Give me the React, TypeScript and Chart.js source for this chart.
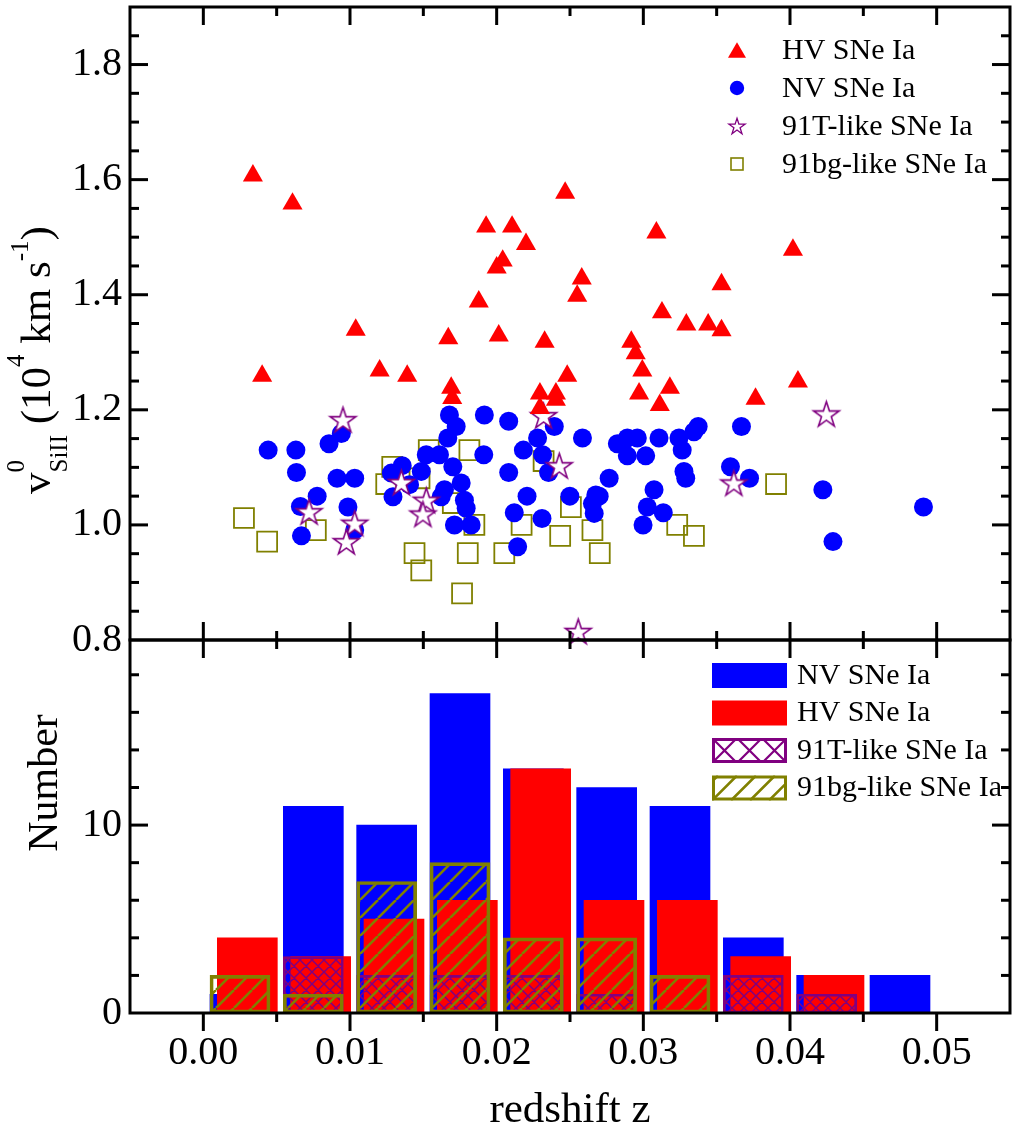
import React, { useEffect, useRef } from 'react';
import { Chart, registerables } from 'chart.js';

Chart.register(...registerables);

const FONT = "'Liberation Serif', 'Times New Roman', serif";
const RED = '#ff0000';
const BLUE = '#0000ff';
const PURPLE = '#800080';
const OLIVE = '#808000';

// ---------------- scatter panel: redshift z vs v0(SiII) [1e4 km/s] ----------------
const hvZ = [0.00338, 0.00608, 0.01928, 0.02105, 0.02041, 0.0200, 0.01878, 0.01039, 0.0167, 0.02014,
  0.00401, 0.01202, 0.0139, 0.0169, 0.01697, 0.02467, 0.0220, 0.03089, 0.0402, 0.0258,
  0.03533, 0.02549, 0.03127, 0.03293, 0.03442, 0.03533, 0.02327, 0.02918, 0.02948, 0.02993,
  0.02481, 0.04054, 0.03181, 0.02295, 0.02404, 0.02971, 0.02404, 0.02295, 0.03112, 0.03765];
const hvV = [1.607, 1.558, 1.518, 1.518, 1.459, 1.447, 1.388, 1.339, 1.324, 1.329,
  1.259, 1.268, 1.259, 1.238, 1.220, 1.577, 1.488, 1.508, 1.478, 1.428,
  1.418, 1.398, 1.369, 1.348, 1.348, 1.338, 1.318, 1.318, 1.298, 1.268,
  1.259, 1.249, 1.238, 1.228, 1.228, 1.228, 1.217, 1.203, 1.208, 1.219];

const nvZ = [0.00442, 0.00631, 0.00635, 0.00776, 0.00662, 0.00669, 0.00857, 0.00941, 0.00912, 0.01032,
  0.00986, 0.01032, 0.01282, 0.01356, 0.01293, 0.01406, 0.01486, 0.0152, 0.0161, 0.01678,
  0.01724, 0.01667, 0.01701, 0.01758, 0.01644, 0.01622, 0.0178, 0.01792, 0.01712, 0.01826,
  0.01916, 0.02082, 0.01912, 0.02082, 0.0212, 0.02143, 0.02393, 0.02279, 0.02182, 0.02313,
  0.02585, 0.02823, 0.02891, 0.02959, 0.02891, 0.03016, 0.03107, 0.03243, 0.03265, 0.03345,
  0.03374, 0.03669, 0.03594, 0.03724, 0.02354, 0.02767, 0.03277, 0.03289, 0.02207, 0.02499,
  0.02699, 0.02653, 0.02665, 0.02676, 0.03073, 0.03027, 0.03136, 0.02998, 0.02309, 0.04224,
  0.04293, 0.0491];
const nvV = [1.130, 1.130, 1.091, 1.050, 1.032, 0.981, 1.141, 1.159, 1.081, 1.081,
  1.031, 0.991, 1.090, 1.103, 1.049, 1.070, 1.093, 1.122, 1.122, 1.191,
  1.171, 1.151, 1.101, 1.073, 1.061, 1.049, 1.043, 1.029, 1.000, 1.000,
  1.191, 1.180, 1.122, 1.091, 1.021, 0.962, 1.171, 1.151, 1.130, 1.122,
  1.151, 1.141, 1.151, 1.151, 1.120, 1.120, 1.151, 1.151, 1.130, 1.162,
  1.171, 1.171, 1.101, 1.081, 1.091, 1.081, 1.093, 1.081, 1.050, 1.050,
  1.050, 1.037, 1.020, 1.052, 1.061, 1.031, 1.021, 1.000, 1.011, 1.061,
  0.971, 1.031];

const t91Z = [0.00952, 0.00721, 0.01032, 0.00975, 0.0135, 0.0152, 0.01497, 0.0232, 0.02427, 0.03617, 0.04248, 0.02556];
const t91V = [1.183, 1.023, 1.003, 0.971, 1.074, 1.043, 1.019, 1.190, 1.103, 1.073, 1.193, 0.815];

const bgZ = [0.00277, 0.00435, 0.00767, 0.01288, 0.01247, 0.01537, 0.01814, 0.01474, 0.01701, 0.01848,
  0.0144, 0.01486, 0.01764, 0.01803, 0.02052, 0.0217, 0.0232, 0.02506, 0.02433, 0.02653,
  0.02703, 0.03231, 0.03345, 0.03905];
const bgV = [1.012, 0.971, 0.991, 1.101, 1.071, 1.130, 1.130, 1.081, 1.038, 1.000,
  0.951, 0.921, 0.881, 0.951, 0.951, 1.000, 1.111, 1.031, 0.981, 0.991,
  0.951, 1.000, 0.981, 1.071];

// ---------------- histogram panel ----------------
const binCenters = [0.0025, 0.0075, 0.0125, 0.0175, 0.0225, 0.0275, 0.0325, 0.0375, 0.0425, 0.0475];
const hvBarX = [0.003, 0.008, 0.013, 0.018, 0.023, 0.028, 0.033, 0.038, 0.043, 0.048];
const nvCounts = [1, 11, 10, 17, 13, 12, 11, 4, 2, 2];
const hvCounts = [4, 3, 5, 6, 13, 6, 6, 3, 2, 0];
const t91Counts = [0, 3, 2, 2, 2, 1, 0, 2, 1, 0];
const bg91Counts = [2, 1, 7, 8, 4, 4, 2, 0, 0, 0];

// ---------------- axes / tick labels ----------------
const X_MIN = -0.005, X_MAX = 0.055, X_MAJOR = 0.01, X_MINOR = 0.005;
const V_MIN = 0.8, V_MAX = 1.9, V_MAJOR = 0.2, V_MINOR = 0.05;
const N_MIN = 0, N_MAX = 19.85, N_MAJOR = 10, N_MINOR = 2;
const xTickValues = [0, 0.01, 0.02, 0.03, 0.04, 0.05];
const vTickValues = [0.8, 1.0, 1.2, 1.4, 1.6, 1.8];
const nTickValues = [0, 10];

const topLegendLabels = ['HV SNe Ia', 'NV SNe Ia', '91T-like SNe Ia', '91bg-like SNe Ia'];
const bottomLegendLabels = ['NV SNe Ia', 'HV SNe Ia', '91T-like SNe Ia', '91bg-like SNe Ia'];
const xTitle = 'redshift z';
const yBotTitle = 'Number';

const MAJOR_LEN = 18;
const MINOR_LEN = 9;

const pts = (xs: number[], ys: number[]) => xs.map((x, i) => ({ x, y: ys[i] }));
const barPts = (xs: number[], ys: number[]) => xs.map((x, i) => ({ x, y: ys[i] })).filter(p => p.y > 0);

function starPath(g: CanvasRenderingContext2D, cx: number, cy: number, R: number) {
  const r = R * 0.382;
  g.beginPath();
  for (let i = 0; i < 10; i++) {
    const a = -Math.PI / 2 + (i * Math.PI) / 5;
    const rad = i % 2 === 0 ? R : r;
    const x = cx + rad * Math.cos(a);
    const y = cy + rad * Math.sin(a);
    if (i === 0) g.moveTo(x, y); else g.lineTo(x, y);
  }
  g.closePath();
}

function makeStar(R: number, lw: number) {
  const size = Math.ceil(2 * R + 2 * lw + 4);
  const c = document.createElement('canvas');
  c.width = size; c.height = size;
  const g = c.getContext('2d')!;
  starPath(g, size / 2, size / 2 + 0.0955 * R, R);
  g.fillStyle = '#ffffff';
  g.fill();
  g.strokeStyle = PURPLE;
  g.lineWidth = lw;
  g.lineJoin = 'miter';
  g.stroke();
  return c;
}

function hatch(ctx: CanvasRenderingContext2D, size: number, kind: 'cross' | 'slash', color: string, lw: number) {
  const c = document.createElement('canvas');
  c.width = size; c.height = size;
  const g = c.getContext('2d')!;
  g.strokeStyle = color;
  g.lineWidth = lw;
  g.beginPath();
  for (const off of [-size, 0, size]) {
    if (kind === 'cross') { g.moveTo(off, 0); g.lineTo(off + size, size); }
    g.moveTo(off, size); g.lineTo(off + size, 0);
  }
  g.stroke();
  return ctx.createPattern(c, 'repeat')!;
}

// rotated y-axis title of the upper panel: v^0_SiII (10^4 km s^-1)
// each group starts where the previous one ends; pieces in a group share the start
type Piece = { t: string; size: number; dy: number };
const yTopTitle: Piece[][] = [
  [{ t: 'v', size: 43, dy: 0 }],
  [{ t: '0', size: 25, dy: -26 }, { t: 'SiII', size: 25, dy: 17 }],
  [{ t: ' (10', size: 43, dy: 0 }],
  [{ t: '4', size: 25, dy: -26 }],
  [{ t: ' km s', size: 43, dy: 0 }],
  [{ t: '-1', size: 25, dy: -22 }],
  [{ t: ')', size: 43, dy: 0 }],
];

export default function App() {
  const ref = useRef<HTMLCanvasElement>(null);

  useEffect(() => {
    document.body.style.margin = '0';
    const canvas = ref.current!;
    const ctx = canvas.getContext('2d')!;
    const starImg = makeStar(13.5, 1.6);
    const starLegend = makeStar(8.5, 1.3);
    const crossPat = hatch(ctx, 12, 'cross', PURPLE, 1.5);
    const slashPat = hatch(ctx, 18, 'slash', OLIVE, 2.6);

    const framePlugin = {
      id: 'frames',
      afterDatasetsDraw(chart: any) {
        const c = chart.ctx as CanvasRenderingContext2D;
        const xs = chart.scales.x, yt = chart.scales.yTop, yb = chart.scales.yBot;
        c.save();
        c.strokeStyle = '#000';
        c.lineWidth = 3;
        c.lineCap = 'butt';
        const seg = (x1: number, y1: number, x2: number, y2: number) => {
          c.beginPath(); c.moveTo(x1, y1); c.lineTo(x2, y2); c.stroke();
        };
        const isMajor = (v: number, step: number) => Math.abs(v / step - Math.round(v / step)) < 1e-6;
        const L = xs.left, R = xs.right;
        const nx = Math.round((X_MAX - X_MIN) / X_MINOR);
        for (let i = 1; i < nx; i++) {
          const v = X_MIN + i * X_MINOR;
          const len = isMajor(v, X_MAJOR) ? MAJOR_LEN : MINOR_LEN;
          const px = xs.getPixelForValue(v);
          seg(px, yt.top, px, yt.top + len);
          seg(px, yt.bottom, px, yt.bottom - len);
          seg(px, yb.top, px, yb.top + len);
          seg(px, yb.bottom, px, yb.bottom + len);
        }
        const nv = Math.round((V_MAX - V_MIN) / V_MINOR);
        for (let i = 1; i < nv; i++) {
          const v = V_MIN + i * V_MINOR;
          const len = isMajor(v - V_MIN, V_MAJOR) ? MAJOR_LEN : MINOR_LEN;
          const py = yt.getPixelForValue(v);
          seg(L, py, L + len, py);
          seg(R, py, R - len, py);
        }
        for (let v = N_MIN + N_MINOR; v < N_MAX; v += N_MINOR) {
          const len = isMajor(v, N_MAJOR) ? MAJOR_LEN : MINOR_LEN;
          const py = yb.getPixelForValue(v);
          seg(L, py, L + len, py);
          seg(R, py, R - len, py);
        }
        c.strokeRect(L, yt.top, R - L, yt.bottom - yt.top);
        c.strokeRect(L, yb.top, R - L, yb.bottom - yb.top);
        c.restore();
      },
    };

    const textPlugin = {
      id: 'texts',
      afterDraw(chart: any) {
        const c = chart.ctx as CanvasRenderingContext2D;
        c.save();
        c.fillStyle = '#000';
        // upper y title (rotated, rich text)
        c.save();
        c.translate(50, 494);
        c.rotate(-Math.PI / 2);
        c.textAlign = 'left';
        c.textBaseline = 'alphabetic';
        let pos = 0;
        for (const group of yTopTitle) {
          let adv = 0;
          for (const p of group) {
            c.font = `${p.size}px ${FONT}`;
            c.fillText(p.t, pos, p.dy);
            adv = Math.max(adv, c.measureText(p.t).width);
          }
          pos += adv;
        }
        c.restore();
        // lower y title
        c.save();
        c.translate(57, 783);
        c.rotate(-Math.PI / 2);
        c.textAlign = 'center';
        c.textBaseline = 'alphabetic';
        c.font = `42px ${FONT}`;
        c.fillText(yBotTitle, 0, 0);
        c.restore();
        // x title
        c.textAlign = 'center';
        c.textBaseline = 'alphabetic';
        c.font = `43px ${FONT}`;
        c.fillText(xTitle, (chart.chartArea.left + chart.chartArea.right) / 2, 1122);

        // upper legend
        c.font = `30px ${FONT}`;
        c.textAlign = 'left';
        c.textBaseline = 'middle';
        topLegendLabels.forEach((lab, i) => {
          const my = 50 + i * 38;
          const mx = 737;
          if (i === 0) {
            const r = 10.4;
            const cy = my + r / 4;
            c.beginPath();
            c.moveTo(mx, cy - r);
            c.lineTo(mx + r * 0.866, cy + r / 2);
            c.lineTo(mx - r * 0.866, cy + r / 2);
            c.closePath();
            c.fillStyle = RED;
            c.fill();
          } else if (i === 1) {
            c.beginPath();
            c.arc(mx, my, 7.2, 0, Math.PI * 2);
            c.fillStyle = BLUE;
            c.fill();
          } else if (i === 2) {
            c.drawImage(starLegend, mx - starLegend.width / 2, my - starLegend.height / 2);
          } else {
            c.strokeStyle = OLIVE;
            c.lineWidth = 1.6;
            c.strokeRect(mx - 6, my - 6, 12, 12);
          }
          c.fillStyle = '#000';
          c.fillText(lab, 782, my + 1.5);
        });

        // lower legend
        const bx = 712, bw = 75, bh = 25;
        bottomLegendLabels.forEach((lab, i) => {
          const top = 663 + i * 37.5;
          if (i === 0 || i === 1) {
            c.fillStyle = i === 0 ? BLUE : RED;
            c.fillRect(bx, top, bw, bh);
          } else {
            const col = i === 2 ? PURPLE : OLIVE;
            c.save();
            c.beginPath();
            c.rect(bx, top, bw, bh);
            c.clip();
            c.strokeStyle = col;
            c.lineWidth = i === 2 ? 2.2 : 2.6;
            c.beginPath();
            if (i === 2) {
              const p = 25;
              for (let k = -1; k < 4; k++) {
                c.moveTo(bx + k * p, top); c.lineTo(bx + (k + 1) * p, top + bh);
                c.moveTo(bx + (k + 1) * p, top); c.lineTo(bx + k * p, top + bh);
              }
            } else {
              const s = 19;
              for (let k = -2; k < 6; k++) {
                c.moveTo(bx + k * s, top + bh); c.lineTo(bx + k * s + bh, top);
              }
            }
            c.stroke();
            c.restore();
            c.strokeStyle = col;
            c.lineWidth = 3;
            c.strokeRect(bx + 1.5, top + 1.5, bw - 3, bh - 3);
          }
          c.fillStyle = '#000';
          c.fillText(lab, 797, top + 13);
        });
        c.restore();
      },
    };

    const tickFont = { family: FONT, size: 40 };
    const noPad = (s: any) => { s.paddingTop = 0; s.paddingBottom = 0; s.paddingLeft = 0; s.paddingRight = 0; };
    const setTicks = (vals: number[]) => (s: any) => { s.ticks = vals.map(v => ({ value: v })); };

    const chart = new Chart(ctx, {
      type: 'scatter',
      data: {
        datasets: [
          {
            type: 'scatter', label: 'HV SNe Ia', data: pts(hvZ, hvV), xAxisID: 'x', yAxisID: 'yTop',
            pointStyle: 'triangle', pointRadius: 11.6, pointBackgroundColor: RED, pointBorderColor: RED,
            pointBorderWidth: 0, backgroundColor: RED, borderColor: RED, clip: false, order: 7,
          } as any,
          {
            type: 'scatter', label: 'NV SNe Ia', data: pts(nvZ, nvV), xAxisID: 'x', yAxisID: 'yTop',
            pointStyle: 'circle', pointRadius: 9.5, pointBackgroundColor: BLUE, pointBorderColor: BLUE,
            pointBorderWidth: 0, backgroundColor: BLUE, borderColor: BLUE, clip: false, order: 9,
          } as any,
          {
            type: 'scatter', label: '91T-like SNe Ia', data: pts(t91Z, t91V), xAxisID: 'x', yAxisID: 'yTop',
            pointStyle: starImg, pointRadius: 13, backgroundColor: '#fff', borderColor: PURPLE,
            clip: false, order: 8,
          } as any,
          {
            type: 'scatter', label: '91bg-like SNe Ia', data: pts(bgZ, bgV), xAxisID: 'x', yAxisID: 'yTop',
            pointStyle: 'rect', pointRadius: 14.1, pointBackgroundColor: 'rgba(0,0,0,0)', pointBorderColor: OLIVE,
            pointBorderWidth: 1.8, backgroundColor: 'rgba(0,0,0,0)', borderColor: OLIVE, clip: false, order: 10,
          } as any,
          {
            type: 'bar', label: 'NV SNe Ia', data: barPts(binCenters, nvCounts), xAxisID: 'x', yAxisID: 'yBot',
            backgroundColor: BLUE, borderWidth: 0, grouped: false, barThickness: 60,
            categoryPercentage: 1, barPercentage: 1, order: 14,
          } as any,
          {
            type: 'bar', label: 'HV SNe Ia', data: barPts(hvBarX, hvCounts), xAxisID: 'x', yAxisID: 'yBot',
            backgroundColor: RED, borderWidth: 0, grouped: false, barThickness: 60,
            categoryPercentage: 1, barPercentage: 1, order: 13,
          } as any,
          {
            type: 'bar', label: '91T-like SNe Ia', data: barPts(binCenters, t91Counts), xAxisID: 'x', yAxisID: 'yBot',
            backgroundColor: crossPat, borderColor: PURPLE, borderWidth: 2, borderSkipped: false,
            grouped: false, barThickness: 60, categoryPercentage: 1, barPercentage: 1, order: 12,
          } as any,
          {
            type: 'bar', label: '91bg-like SNe Ia', data: barPts(binCenters, bg91Counts), xAxisID: 'x', yAxisID: 'yBot',
            backgroundColor: slashPat, borderColor: OLIVE, borderWidth: 3, borderSkipped: false,
            grouped: false, barThickness: 60, categoryPercentage: 1, barPercentage: 1, order: 11,
          } as any,
        ],
      },
      options: {
        animation: false,
        responsive: false,
        events: [],
        layout: { autoPadding: false, padding: { top: 7, right: 2, left: 0, bottom: 0 } },
        plugins: { legend: { display: false }, tooltip: { enabled: false }, title: { display: false } },
        scales: {
          x: {
            type: 'linear', position: 'bottom', min: X_MIN, max: X_MAX, offset: false,
            grid: { display: false, drawTicks: false }, border: { display: false },
            afterBuildTicks: setTicks(xTickValues),
            ticks: {
              autoSkip: false, maxRotation: 0, minRotation: 0,
              padding: 16, color: '#000', font: tickFont,
              callback: (v: any) => Number(v).toFixed(2),
            },
            afterFit: (s: any) => { s.height = 118; noPad(s); },
          },
          yBot: {
            type: 'linear', position: 'left', stack: 'panels', stackWeight: 373, min: N_MIN, max: N_MAX,
            grid: { display: false, drawTicks: false }, border: { display: false },
            afterBuildTicks: setTicks(nTickValues),
            ticks: {
              autoSkip: false, padding: 8, color: '#000', font: tickFont,
              callback: (v: any) => String(Math.round(Number(v))),
            },
            afterFit: (s: any) => { s.width = 130; noPad(s); },
          },
          yTop: {
            type: 'linear', position: 'left', stack: 'panels', stackWeight: 633, min: V_MIN, max: V_MAX,
            grid: { display: false, drawTicks: false }, border: { display: false },
            afterBuildTicks: setTicks(vTickValues),
            ticks: {
              autoSkip: false, padding: 8, color: '#000', font: tickFont,
              callback: (v: any) => Number(v).toFixed(1),
            },
            afterFit: (s: any) => { s.width = 130; noPad(s); },
          },
        },
      } as any,
      plugins: [framePlugin, textPlugin],
    });

    return () => chart.destroy();
  }, []);

  return <canvas ref={ref} width={1012} height={1131} style={{ display: 'block' }} />;
}
